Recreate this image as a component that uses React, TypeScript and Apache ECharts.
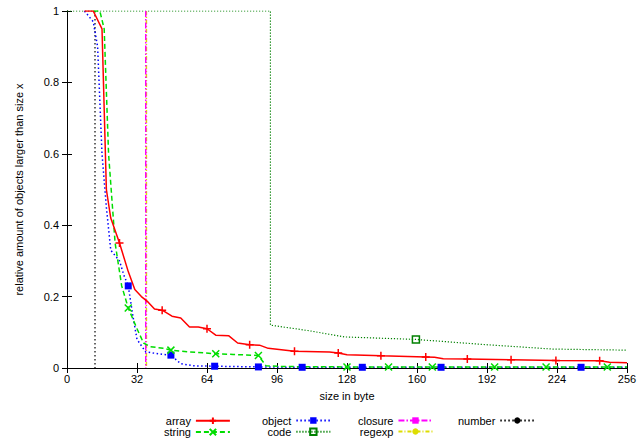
import { useEffect, useRef } from "react";
import * as echarts from "echarts";

// [size, fraction, marker?]
const ARRAY: [number, number, number?][] = [
  [8, 1], [12, 1], [16, 0.95], [18, 0.5], [20, 0.42], [24, 0.35, 1], [28, 0.27], [31, 0.22], [34, 0.2],
  [37, 0.185], [40, 0.165], [43.5, 0.162, 1], [48, 0.145], [52, 0.14], [56, 0.115], [60, 0.115], [64, 0.11, 1],
  [68, 0.092], [74, 0.09], [78, 0.07], [83.5, 0.065, 1], [88, 0.064], [92, 0.055], [100, 0.05], [104, 0.047, 1],
  [120, 0.045], [124, 0.042, 1], [128, 0.037], [140, 0.035], [143.5, 0.034, 1], [164, 0.031, 1], [168, 0.03],
  [172, 0.026], [183, 0.025, 1], [203, 0.023, 1], [223.5, 0.021, 1], [243.5, 0.02, 1], [248, 0.016], [256, 0.015],
];
const STRING: [number, number, number?][] = [
  [12, 1], [15, 1], [17, 0.95], [19, 0.6], [22, 0.35], [25, 0.23], [28, 0.168, 1], [32, 0.11], [35, 0.07],
  [38, 0.06], [44, 0.055], [47.5, 0.05, 1], [56, 0.045], [68, 0.04, 1], [76, 0.038], [87.5, 0.035, 1],
  [91, 0.006], [100, 0.004], [128, 0.003, 1], [147, 0.003, 1], [167, 0.003, 1], [195.5, 0.003, 1],
  [219, 0.003, 1], [247, 0.003, 1], [256, 0.003],
];
const OBJECT: [number, number, number?][] = [
  [8, 1], [12, 0.97], [14, 0.9], [16, 0.6], [18, 0.45], [20, 0.33], [24, 0.3], [26, 0.26], [28, 0.23, 1],
  [30, 0.15], [32, 0.08], [36, 0.045], [44, 0.038], [47.5, 0.036, 1], [52, 0.012], [58, 0.006], [67.5, 0.005, 1],
  [87.5, 0.003, 1], [107.5, 0.002, 1], [135, 0.002, 1], [171, 0.002, 1], [235, 0.002, 1], [256, 0.002],
];
const CODE: [number, number, number?][] = [
  [0, 1], [93, 1], [93, 0.12], [110, 0.105], [127, 0.087], [159.5, 0.08, 1], [190, 0.066], [222, 0.053], [256, 0.05],
];
const CLOSURE: [number, number, number?][] = [[36, 1], [36, 0]];
const REGEXP: [number, number, number?][] = [[36.3, 1], [36.3, 0]];
const NUMBER: [number, number, number?][] = [[12.8, 1], [12.8, 0]];

const PLUS = "path://M0,5H10M5,0V10";
const CROSS = "path://M0,0L10,10M10,0L0,10";

function App() {
  const ref = useRef<HTMLDivElement>(null);
  useEffect(() => {
    if (!ref.current) return;
    const chart = echarts.init(ref.current, undefined, { renderer: "svg" });
    const mk = (
      name: string, pts: [number, number, number?][], color: string, type: any, symbol: string,
      size: number, stroke: boolean, width = 1.5,
    ) => ({
      name,
      type: "line",
      symbol,
      symbolSize: size,
      showSymbol: true,
      itemStyle: stroke
        ? { color: "none", borderColor: color, borderWidth: 1.5 }
        : { color, borderColor: color, borderWidth: 0 },
      lineStyle: { color, width, type },
      data: pts.map((p) => (p[2] ? { value: [p[0], p[1]] } : { value: [p[0], p[1]], symbol: "none" })),
    });
    const font = { fontFamily: "Liberation Sans", fontSize: 11, color: "#000" };
    const legendBase = {
      orient: "vertical" as const, align: "right" as const, itemWidth: 34, itemHeight: 8, itemGap: 0,
      top: 415, height: 60, textStyle: { ...font, lineHeight: 11, padding: [0, 0, 0, 0] }, padding: 0, selectedMode: false,
    };
    chart.setOption({
      animation: false,
      grid: { left: 67, right: 17, top: 11, bottom: 70 },
      legend: [
        { ...legendBase, left: 164, data: ["array", "string"] },
        { ...legendBase, left: 262, data: ["object", "code"] },
        { ...legendBase, left: 358, data: ["closure", "regexp"] },
        { ...legendBase, left: 458, data: ["number"] },
      ],
      xAxis: [
        {
          type: "value", min: 0, max: 256, interval: 32, name: "size in byte", nameLocation: "middle", nameGap: 22,
          nameTextStyle: font, axisLabel: { ...font, margin: 5 }, splitLine: { show: false },
          axisLine: { lineStyle: { color: "#000" } }, axisTick: { inside: true, length: 5, lineStyle: { color: "#000" } },
        },
        {
          type: "value", min: 0, max: 256, interval: 32, position: "top", axisLabel: { show: false },
          splitLine: { show: false }, axisLine: { lineStyle: { color: "#000" } },
          axisTick: { inside: true, length: 5, lineStyle: { color: "#000" } },
        },
      ],
      yAxis: [
        {
          type: "value", min: 0, max: 1, interval: 0.2, name: "relative amount of objects larger than size x",
          nameLocation: "middle", nameGap: 43, nameTextStyle: font, axisLabel: { ...font, margin: 8 },
          splitLine: { show: false }, axisLine: { show: true, lineStyle: { color: "#000" } },
          axisTick: { inside: true, length: 5, lineStyle: { color: "#000" } },
        },
        {
          type: "value", min: 0, max: 1, interval: 0.2, position: "right", axisLabel: { show: false },
          splitLine: { show: false }, axisLine: { show: true, lineStyle: { color: "#000" } },
          axisTick: { inside: true, length: 5, lineStyle: { color: "#000" } },
        },
      ],
      series: [
        mk("number", NUMBER, "#000", [1.5, 2.5], "circle", 6, false, 1.2),
        mk("code", CODE, "#008000", [1.2, 1.8], "rect", 7, true, 1.2),
        mk("regexp", REGEXP, "#dddd00", [4, 2, 1, 2], "circle", 7, false),
        mk("closure", CLOSURE, "#ff00ff", [6, 2, 1.5, 2], "rect", 7, false),
        mk("object", OBJECT, "#0000ff", [1.5, 2.5], "rect", 7, false),
        mk("string", STRING, "#00dd00", [5, 3], CROSS, 7, true),
        mk("array", ARRAY, "#ff0000", "solid", PLUS, 8, true),
      ],
    });
    return () => chart.dispose();
  }, []);
  return <div ref={ref} style={{ width: 644, height: 438, position: "absolute", left: 0, top: 0 }} />;
}

export default App;
